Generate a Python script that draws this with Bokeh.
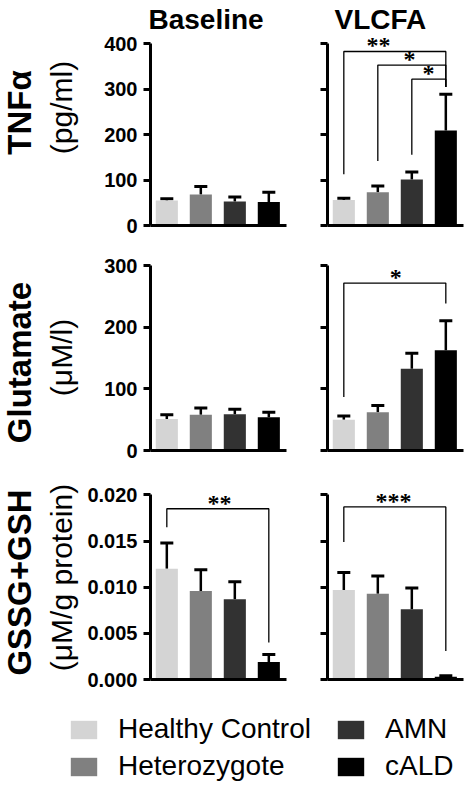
import math
from bokeh.plotting import figure
from bokeh.models import (ColumnDataSource, Range1d, FixedTicker, Whisker, TeeHead,
                          LabelSet, Label, Legend, LegendItem, NumeralTickFormatter)
from bokeh.layouts import column, row
from bokeh.embed import file_html
from bokeh.resources import INLINE

# ---------------- data ----------------
groups = ["Healthy Control", "Heterozygote", "AMN", "cALD"]
colors = ["#d4d4d4", "#808080", "#323232", "#000000"]
conditions = ["Baseline", "VLCFA"]
measures = ["TNFα", "Glutamate", "GSSG+GSH"]
units = ["(pg/ml)", "(μM/l)", "(μM/g protein)"]

tnf_baseline = [55, 68, 53, 52]
tnf_baseline_err = [4, 18, 10, 21]
tnf_vlcfa = [56, 73, 101, 209]
tnf_vlcfa_err = [4, 14, 17, 80]

glu_baseline = [51, 58, 59, 54]
glu_baseline_err = [7, 11, 8, 8]
glu_vlcfa = [50, 62, 133, 163]
glu_vlcfa_err = [6, 11, 25, 48]

gsh_baseline = [0.0120, 0.0096, 0.0087, 0.0019]
gsh_baseline_err = [0.0028, 0.0023, 0.0019, 0.0008]
gsh_vlcfa = [0.0097, 0.0093, 0.0076, 0.0003]
gsh_vlcfa_err = [0.0019, 0.0019, 0.0023, 0.0001]

tnf_ticks = [0, 100, 200, 300, 400]
glu_ticks = [0, 100, 200, 300]
gsh_ticks = [0.000, 0.005, 0.010, 0.015, 0.020]

# brackets: (from group, to group, top, left leg end, right leg end, stars, star x)
tnf_vlcfa_brackets = [(0, 3, 383, 113, 305, "**", 1.02),
                      (1, 3, 353, 142, 305, "*", 1.93),
                      (2, 3, 322, 156, 305, "*", 2.49)]
glu_vlcfa_brackets = [(0, 3, 272, 87, 239, "*", 1.53)]
gsh_baseline_brackets = [(0, 3, 0.0185, 0.0165, 0.0040, "**", 1.55)]
gsh_vlcfa_brackets = [(0, 3, 0.0187, 0.0149, 0.0031, "***", 1.46)]

FONT = "Liberation Sans"
ROW_H = [245, 225, 221]
ROW_BT = [35, 13, 17]
ROW_BB = [20, 20, 12]
TITLE_W = 82


def plain(p):
    p.outline_line_color = None
    p.grid.visible = False
    p.axis.visible = False


def panel(values, errs, ticks, fmt, brackets, left, r, title=None, title_offset=0):
    if left:
        width, bl, br = 224, 68, 20
    else:
        width, bl, br = 161, 21, 4
    p = figure(width=width, height=ROW_H[r], output_backend="svg", toolbar_location=None,
               x_range=Range1d(-0.48, 3.52), y_range=Range1d(ticks[0], ticks[-1] * 1.04),
               min_border_left=bl, min_border_right=br, min_border_top=ROW_BT[r],
               min_border_bottom=ROW_BB[r], title=title)
    p.outline_line_color = None
    p.grid.visible = False
    if title:
        p.title.text_font = FONT
        p.title.text_font_size = "28px"
        p.title.text_font_style = "bold"
        p.title.text_color = "black"
        p.title.align = "left"
        p.title.offset = title_offset
        p.title.standoff = 3

    src = ColumnDataSource(dict(x=list(range(len(groups))), top=values,
                                upper=[v + e for v, e in zip(values, errs)],
                                color=colors))
    p.vbar(x="x", top="top", width=0.65, fill_color="color", line_color=None, source=src)
    p.add_layout(Whisker(base="x", lower="top", upper="upper", source=src,
                         dimension="height", line_width=2.5, line_color="black",
                         upper_head=TeeHead(size=13, line_width=3, line_color="black"),
                         lower_head=None))

    if brackets:
        xs, ys, lx, ly, lt = [], [], [], [], []
        for a, b, top, lb, rb, stars, sx in brackets:
            xs.append([a, a, b, b])
            ys.append([lb, top, top, rb])
            lx.append(sx)
            ly.append(top)
            lt.append(stars)
        p.multi_line(xs=xs, ys=ys, line_color="black", line_width=1.3)
        lsrc = ColumnDataSource(dict(x=lx, y=ly, text=lt))
        p.add_layout(LabelSet(x="x", y="y", text="text", source=lsrc, text_align="center",
                              text_baseline="alphabetic", y_offset=-2,
                              text_font=FONT, text_font_size="24px",
                              text_font_style="bold", text_color="black"))

    ya = p.yaxis[0]
    ya.ticker = FixedTicker(ticks=ticks)
    ya.bounds = (ticks[0], ticks[-1])
    ya.axis_line_width = 3
    ya.axis_line_color = "black"
    ya.major_tick_line_width = 3
    ya.major_tick_line_color = "black"
    ya.major_tick_out = 7
    ya.major_tick_in = 0
    ya.minor_tick_line_color = None
    ya.major_label_standoff = 6
    ya.major_label_text_font = FONT
    ya.major_label_text_font_style = "bold"
    ya.major_label_text_font_size = "20px"
    ya.major_label_text_color = "black"
    if fmt:
        ya.formatter = NumeralTickFormatter(format=fmt)
    if not left:
        ya.major_label_overrides = {t: "" for t in ticks}

    xa = p.xaxis[0]
    xa.ticker = FixedTicker(ticks=[])
    xa.axis_line_width = 3
    xa.axis_line_color = "black"
    xa.major_tick_line_color = None
    xa.minor_tick_line_color = None
    xa.major_label_standoff = 0
    return p


p11 = panel(tnf_baseline, tnf_baseline_err, tnf_ticks, None, [], True, 0,
            title=conditions[0], title_offset=-2)
p12 = panel(tnf_vlcfa, tnf_vlcfa_err, tnf_ticks, None, tnf_vlcfa_brackets, False, 0,
            title=conditions[1], title_offset=7)
p21 = panel(glu_baseline, glu_baseline_err, glu_ticks, None, [], True, 1)
p22 = panel(glu_vlcfa, glu_vlcfa_err, glu_ticks, None, glu_vlcfa_brackets, False, 1)
p31 = panel(gsh_baseline, gsh_baseline_err, gsh_ticks, "0.000", gsh_baseline_brackets, True, 2)
p32 = panel(gsh_vlcfa, gsh_vlcfa_err, gsh_ticks, "0.000", gsh_vlcfa_brackets, False, 2)

total_w = TITLE_W + 224 + 161

# y-axis titles (rotated)
body_h = sum(ROW_H)
tf = figure(width=TITLE_W, height=body_h, output_backend="svg", toolbar_location=None,
            x_range=Range1d(0, TITLE_W), y_range=Range1d(body_h, 0), min_border=0)
plain(tf)
title_y = [112, 362, 582]
unit_y = [107, 357, 577]
for m, u, ty, uy in zip(measures, units, title_y, unit_y):
    tf.add_layout(Label(x=19, y=ty, text=m, angle=math.pi / 2, text_align="center",
                        text_baseline="middle", text_font=FONT, text_font_size="33px",
                        text_font_style="bold", text_color="black"))
    tf.add_layout(Label(x=61, y=uy, text=u, angle=math.pi / 2, text_align="center",
                        text_baseline="middle", text_font=FONT, text_font_size="30px",
                        text_color="black"))

# legend figure
lf = figure(width=total_w, height=96, output_backend="svg", toolbar_location=None,
            x_range=Range1d(-0.5, 3.5), y_range=Range1d(0, 1), min_border=0)
plain(lf)
legend_src = ColumnDataSource(dict(x=list(range(len(groups))), top=tnf_baseline, color=colors))
lr = lf.vbar(x="x", top="top", width=0.65, fill_color="color", line_color=None,
             source=legend_src, visible=False)
items = [LegendItem(label=g, renderers=[lr], index=i) for i, g in enumerate(groups)]
legend = Legend(items=items, ncols=2, location=(67, 5), glyph_width=33, glyph_height=23,
                label_standoff=18, label_width=211, spacing=5, padding=0, margin=0,
                label_text_font=FONT, label_text_font_size="28px", label_text_color="black",
                border_line_color=None, background_fill_alpha=0)
lf.add_layout(legend)

grid = column(row(p11, p12, spacing=0), row(p21, p22, spacing=0),
              row(p31, p32, spacing=0), spacing=0)
layout = column(row(tf, grid, spacing=0), lf, spacing=0)

with open("out.html", "w") as f:
    f.write(file_html(layout, INLINE))
